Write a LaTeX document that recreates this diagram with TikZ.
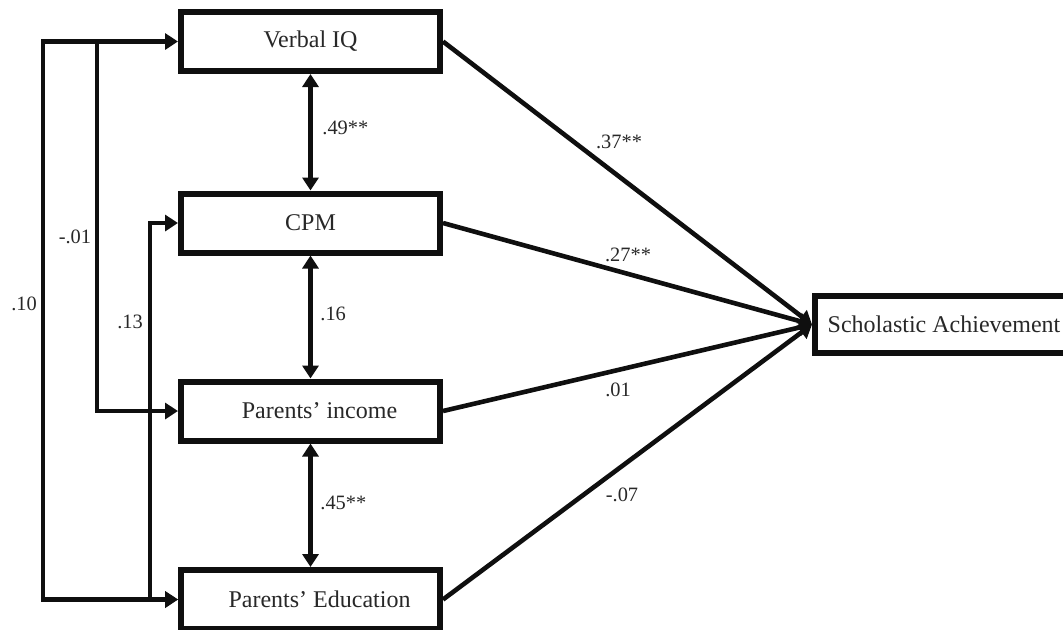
\documentclass[tikz,border=0pt]{standalone}
\usepackage{fontspec}
\setmainfont{Liberation Serif}
\usepackage{tikz}
\usetikzlibrary{positioning,calc,arrows.meta}
\definecolor{ink}{RGB}{15,15,15}
\definecolor{txt}{RGB}{40,40,40}

\begin{document}
\begin{tikzpicture}[
  x=0.5pt, y=-0.5pt,
  >={Triangle[length=6.5pt, width=8pt]},
  var/.style={draw=ink, line width=3pt, fill=white, minimum width=129.5pt, minimum height=29.5pt, inner sep=0pt, text=txt, font=\fontsize{12}{14}\selectfont},
  path/.style={draw=ink, line width=2.3pt},
  coef/.style={text=txt, inner sep=0pt, font=\fontsize{10.2}{12}\selectfont},
]
\useasboundingbox (0,0) rectangle (1063,629);

% ---- predictors (left column) ----
\node[var] (VIQ) at (310.5,41.5) {Verbal IQ};
\node[var] (CPM) at (310.5,223) {CPM};
\node[var] (INC) at (310.5,411) {\hspace{9pt}Parents' income};
\node[var] (EDU) at (310.5,599.5) {\hspace{9pt}Parents' Education};

% ---- outcome ----
\node[var, minimum width=129pt, minimum height=28.5pt] (SA) at (944,324.5) {Scholastic Achievement};

% ---- correlations between neighbours ----
\draw[path, <->] (VIQ.south) -- (CPM.north);
\draw[path, <->] (CPM.south) -- (INC.north);
\draw[path, <->] (INC.south) -- (EDU.north);

% ---- correlations on the left ----
\coordinate (tapV) at ($(VIQ.west)+(-81,0)$);
\draw[path, <->] (VIQ.west) -- ++(-135,0) |- (EDU.west);
\draw[path, ->] (tapV) |- (INC.west);
\draw[path, <->] (CPM.west) -- ++(-28,0) |- (EDU.west);

% ---- paths to the outcome ----
\draw[path, ->] (VIQ.east) -- (SA.west);
\draw[path, ->] (CPM.east) -- (SA.west);
\draw[path, ->] (INC.east) -- (SA.west);
\draw[path, ->] (EDU.east) -- (SA.west);

% ---- coefficients ----
\node[coef, anchor=west] (c49) at (322,128) {.49**};
\node[coef, anchor=west] (c16) at (320,314) {.16};
\node[coef, anchor=west] (c45) at (320,503) {.45**};
\node[coef] (c10) at (24,304) {.10};
\node[coef] (c01n) at (75,237) {-.01};
\node[coef] (c13) at (130,322) {.13};
\node[coef] (c37) at (619,142) {.37**};
\node[coef] (c27) at (628,255) {.27**};
\node[coef] (c01) at (618,390) {.01};
\node[coef] (c07) at (622,495) {-.07};

\end{tikzpicture}
\end{document}
